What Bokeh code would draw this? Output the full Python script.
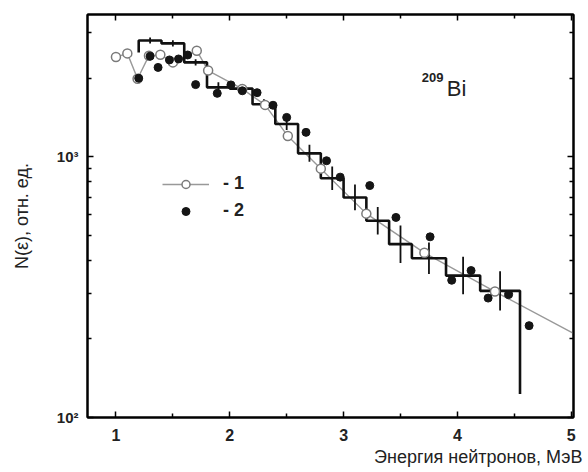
import numpy as np
from bokeh.plotting import figure
from bokeh.models import (Range1d, LogAxis, LinearAxis, FixedTicker, CustomJSTickFormatter,
                          Legend, LegendItem, Label, Title)
from bokeh.embed import file_html
from bokeh.resources import INLINE

# ---- data ----
# series 1: open circles joined by a thin grey line
s1_x = [1.00, 1.10, 1.19, 1.29, 1.39, 1.50, 1.71, 1.81, 2.11, 2.31, 2.51, 2.80, 3.20, 3.71, 4.33]
s1_y = [2410, 2490, 1990, 2440, 2460, 2300, 2550, 2140, 1820, 1580, 1200, 900, 605, 428, 304]
s1_tail_x = [5.02]
s1_tail_y = [210]

# series 2: filled circles
s2_x = [1.20, 1.30, 1.37, 1.47, 1.55, 1.63, 1.70, 1.89, 2.01, 2.11, 2.24, 2.38, 2.50, 2.67,
        2.85, 2.97, 3.23, 3.46, 3.76, 3.95, 4.12, 4.27, 4.45, 4.63]
s2_y = [2000, 2430, 2200, 2350, 2370, 2455, 1890, 1750, 1885, 1790, 1760, 1575, 1415, 1240,
        965, 835, 775, 585, 493, 336, 366, 287, 296, 225]

# histogram (step) with relative errors
hist_edges = [1.2, 1.4, 1.6, 1.8, 2.0, 2.2, 2.4, 2.6, 2.8, 3.0, 3.2, 3.4, 3.6, 3.9, 4.2, 4.55]
hist_vals = [2790, 2720, 2300, 1845, 1825, 1590, 1335, 1030, 827, 698, 568, 462, 408, 350, 306]
hist_start = 2510
hist_end = 123
hist_err = [0.027, 0.027, 0.027, 0.045, 0.036, 0.045, 0.054, 0.078, 0.11, 0.12, 0.13, 0.18,
            0.15, 0.18, 0.19]

x_ticks = [1, 2, 3, 4, 5]
x_minor = [1.5, 2.5, 3.5, 4.5]
y_ticks = [100, 1000]
y_minor = [200, 300, 400, 500, 600, 700, 800, 900, 2000, 3000]

FONT = "Liberation Sans"

p = figure(width=588, height=472, y_axis_type="log",
           x_range=Range1d(0.75, 5.02), y_range=Range1d(100, 3510),
           output_backend="svg", toolbar_location=None,
           min_border_left=87, min_border_right=15, min_border_top=14, min_border_bottom=55)
p.grid.visible = False
p.background_fill_color = "white"
p.border_fill_color = "white"
p.outline_line_color = "black"
p.outline_line_width = 2

# step histogram built from the bins
hx = [hist_edges[0]]
hy = [hist_start]
for i, v in enumerate(hist_vals):
    hx += [hist_edges[i], hist_edges[i + 1]]
    hy += [v, v]
hx.append(hist_edges[-1])
hy.append(hist_end)

centers = [(hist_edges[i] + hist_edges[i + 1]) / 2 for i in range(len(hist_vals))]
lo = [v / (1 + e) for v, e in zip(hist_vals, hist_err)]
hi = [v * (1 + e) for v, e in zip(hist_vals, hist_err)]

line_r = p.line(s1_x + s1_tail_x, s1_y + s1_tail_y, line_color="#999999", line_width=1.4)
p.line(hx, hy, line_color="#111111", line_width=2.6)
p.segment(x0=centers, y0=lo, x1=centers, y1=hi, line_color="#111111", line_width=1.8)
s1_r = p.scatter(s1_x, s1_y, marker="circle", size=9, fill_color="white",
                 line_color="#7a7a7a", line_width=1.5)
s2_r = p.scatter(s2_x, s2_y, marker="circle", size=8, fill_color="#151515",
                 line_color="#151515")

# axes styling
def style_axis(ax):
    ax.axis_line_color = "black"
    ax.axis_line_width = 2
    ax.major_tick_in = 6
    ax.major_tick_out = 0
    ax.minor_tick_in = 4
    ax.minor_tick_out = 0
    ax.major_tick_line_width = 1.5
    ax.minor_tick_line_width = 1.5
    ax.major_tick_line_color = "black"
    ax.minor_tick_line_color = "black"

xa = p.xaxis[0]
xa.ticker = FixedTicker(ticks=x_ticks, minor_ticks=x_minor)
style_axis(xa)
xa.major_label_text_font = FONT
xa.major_label_text_font_size = "16px"
xa.major_label_text_font_style = "bold"
xa.major_label_text_color = "#222222"
xa.major_label_standoff = 11

ya = p.yaxis[0]
ya.ticker = FixedTicker(ticks=y_ticks, minor_ticks=y_minor)
ya.formatter = CustomJSTickFormatter(code="""
const e = Math.round(Math.log10(tick));
const s = {2: '\u00b2', 3: '\u00b3'};
return '10' + (s[e] || String(e));
""")
style_axis(ya)
ya.major_label_text_font = FONT
ya.major_label_text_font_size = "15px"
ya.major_label_text_font_style = "bold"
ya.major_label_text_color = "#222222"
ya.major_label_standoff = 9
ya.axis_label = "N(\u03b5), отн. ед."
ya.axis_label_text_font = FONT
ya.axis_label_text_font_size = "18px"
ya.axis_label_text_font_style = "normal"
ya.axis_label_text_color = "#222222"
ya.axis_label_standoff = 22

blank = CustomJSTickFormatter(code="return '';")
ra = LogAxis(ticker=FixedTicker(ticks=y_ticks, minor_ticks=y_minor), formatter=blank,
             major_label_text_font_size="0px")
style_axis(ra)
p.add_layout(ra, "right")
ta = LinearAxis(ticker=FixedTicker(ticks=x_ticks, minor_ticks=x_minor), formatter=blank,
                major_label_text_font_size="0px")
style_axis(ta)
p.add_layout(ta, "above")

# x axis title, right aligned below the axis
xt = Title(text="Энергия нейтронов, МэВ", align="right", text_font=FONT,
           text_font_size="18px", text_font_style="normal", text_color="#222222",
           standoff=2, offset=-9)
p.add_layout(xt, "below")

# legend
legend = Legend(items=[LegendItem(label="- 1", renderers=[line_r, s1_r]),
                       LegendItem(label="- 2", renderers=[s2_r])],
                location=(75, 196), glyph_width=47, glyph_height=20, label_height=20,
                label_standoff=14, spacing=6, padding=0, margin=0,
                border_line_color=None, background_fill_alpha=0,
                label_text_font=FONT, label_text_font_size="18px",
                label_text_font_style="bold", label_text_color="#222222")
p.add_layout(legend)

# nucleus label
p.add_layout(Label(x=3.686, y=2014, text="209", text_font=FONT, text_font_size="13px",
                   text_font_style="bold", text_color="#222222", text_baseline="alphabetic"))
p.add_layout(Label(x=3.907, y=1820, text="Bi", text_font=FONT, text_font_size="22px",
                   text_color="#222222", text_baseline="alphabetic"))

open("out.html", "w").write(file_html(p, INLINE))
